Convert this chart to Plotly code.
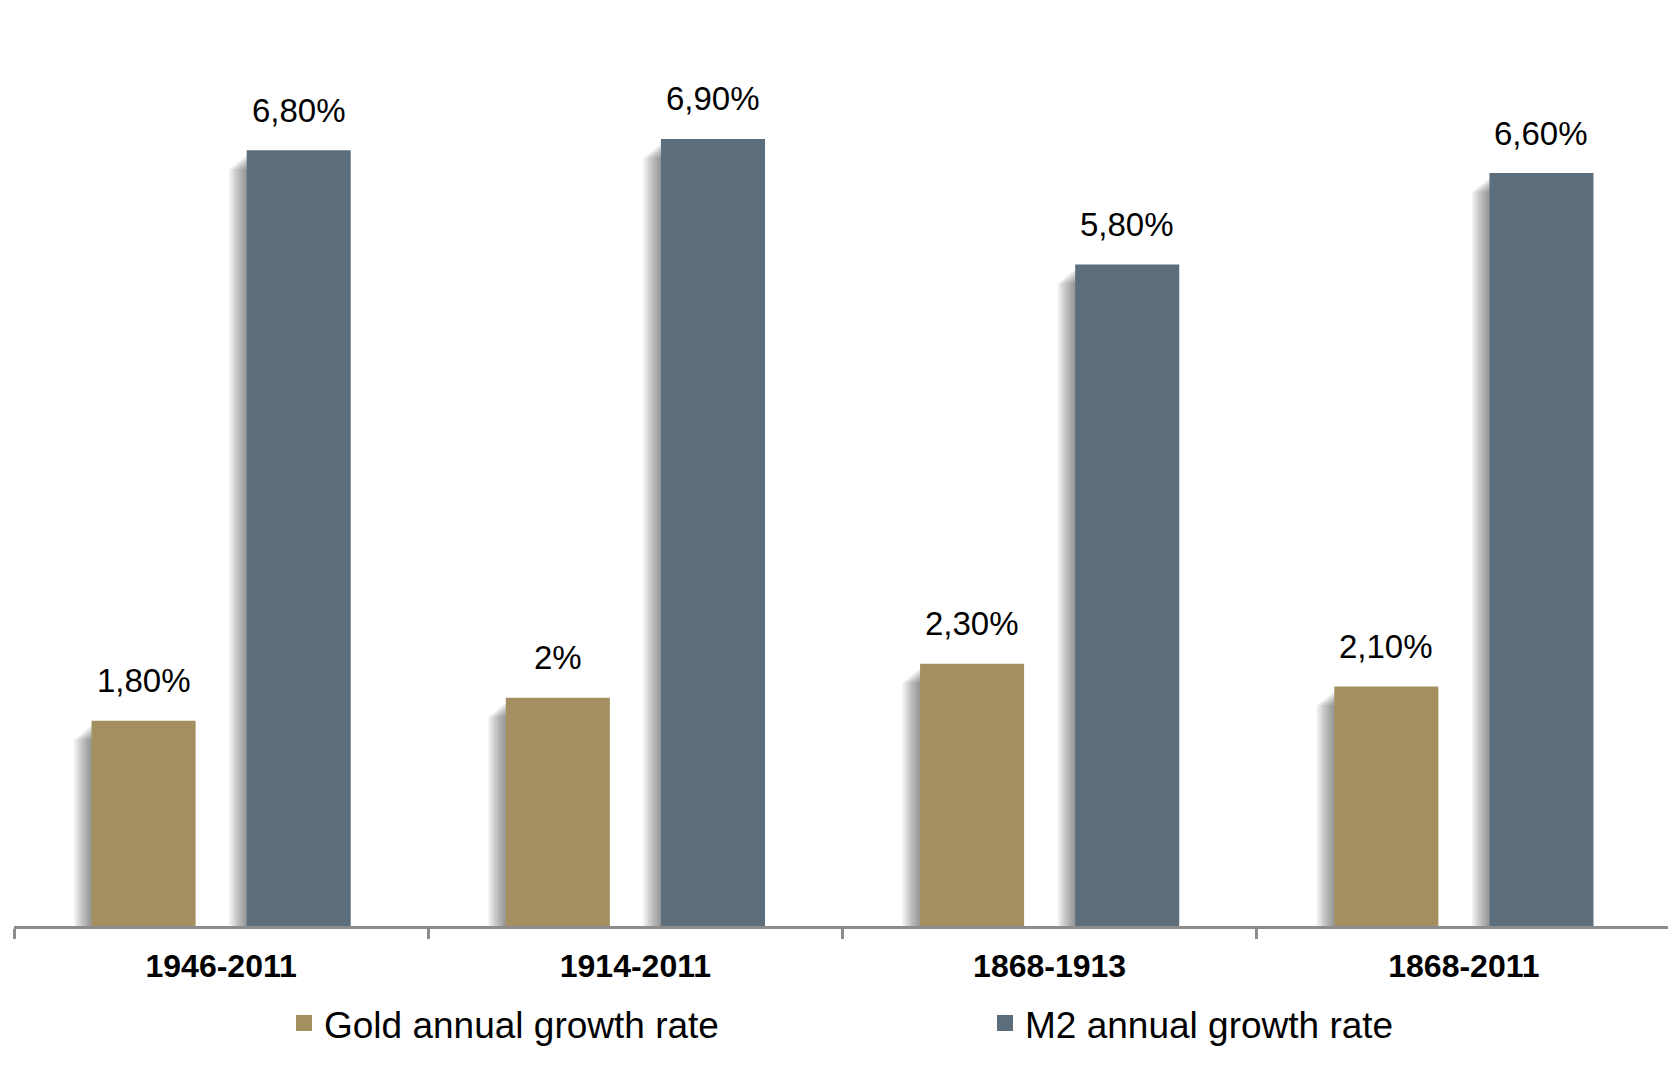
import plotly.graph_objects as go

categories = ["1946-2011", "1914-2011", "1868-1913", "1868-2011"]
gold_values = [1.8, 2.0, 2.3, 2.1]
m2_values = [6.8, 6.9, 5.8, 6.6]
gold_labels = ["1,80%", "2%", "2,30%", "2,10%"]
m2_labels = ["6,80%", "6,90%", "5,80%", "6,60%"]
series_names = ["Gold annual growth rate", "M2 annual growth rate"]

GOLD = "#A48F60"
SLATE = "#5C6E7C"
AXIS = "#8C8C8C"
FONT = "Liberation Sans, Arial, sans-serif"

# page body has an 8px margin, so the figure is sized to fit the window
W, H = 1669, 1057
ML, MR, MT, MB = 6, 6, 2, 139
plot_w = W - ML - MR
plot_h = H - MT - MB
ymax = 8.03
px_x = len(categories) / plot_w      # category units per pixel
px_y = ymax / plot_h                 # value units per pixel

bar_w = 0.2512
offsets = [-0.3128, 0.0617]
colors = [GOLD, SLATE]
values = [gold_values, m2_values]
labels = [gold_labels, m2_labels]

fig = go.Figure()

# soft shadows to the left of each bar
n_layers = 8
for s in range(2):
    for k in range(n_layers, 0, -1):
        grow = k * 2.2 * px_x
        drop = (4 + k * 1.8) * px_y
        fig.add_trace(go.Bar(
            x=categories,
            y=[max(v - drop, 0) for v in values[s]],
            offset=offsets[s] - grow,
            width=bar_w,
            marker=dict(color="rgba(0,0,0,0.06)", line=dict(width=0)),
            showlegend=False, hoverinfo="skip",
        ))

for s in range(2):
    fig.add_trace(go.Bar(
        x=categories, y=values[s], name=series_names[s],
        offset=offsets[s], width=bar_w,
        marker=dict(color=colors[s], line=dict(width=0)),
        showlegend=False,
    ))
    # legend entries
    fig.add_trace(go.Scatter(
        x=[None], y=[None], mode="markers", name=series_names[s],
        marker=dict(symbol="square", size=16, color=colors[s]),
        showlegend=True,
    ))

annotations = []
for s in range(2):
    for i, (v, t) in enumerate(zip(values[s], labels[s])):
        annotations.append(dict(
            x=i + offsets[s] + bar_w / 2, y=v, xref="x", yref="y",
            text=t, showarrow=False, yanchor="middle", yshift=40,
            font=dict(family=FONT, size=33, color="#000000"),
        ))

legend_left_px = 276
fig.update_layout(
    width=W, height=H,
    margin=dict(l=ML, r=MR, t=MT, b=MB, pad=0, autoexpand=False),
    paper_bgcolor="white", plot_bgcolor="white",
    barmode="overlay",
    showlegend=True,
    legend=dict(
        orientation="h", x=(legend_left_px - ML) / plot_w, xanchor="left",
        y=-0.1065, yanchor="middle",
        font=dict(family=FONT, size=37, color="#000000"),
        entrywidth=656, entrywidthmode="pixels",
        itemclick=False, itemdoubleclick=False,
    ),
    annotations=annotations,
    xaxis=dict(
        type="category", range=[-0.5, len(categories) - 0.5],
        showline=True, linecolor=AXIS, linewidth=3,
        ticks="outside", tickson="boundaries", ticklen=10, tickwidth=3, tickcolor=AXIS,
        tickfont=dict(family=FONT, size=32, color="#000000", weight="bold"),
        ticklabelstandoff=10, automargin=False,
        showgrid=False, zeroline=False, fixedrange=True,
    ),
    yaxis=dict(
        range=[0, ymax], visible=False, showgrid=False, zeroline=False,
        fixedrange=True, automargin=False,
    ),
)

fig.write_html("out.html")
